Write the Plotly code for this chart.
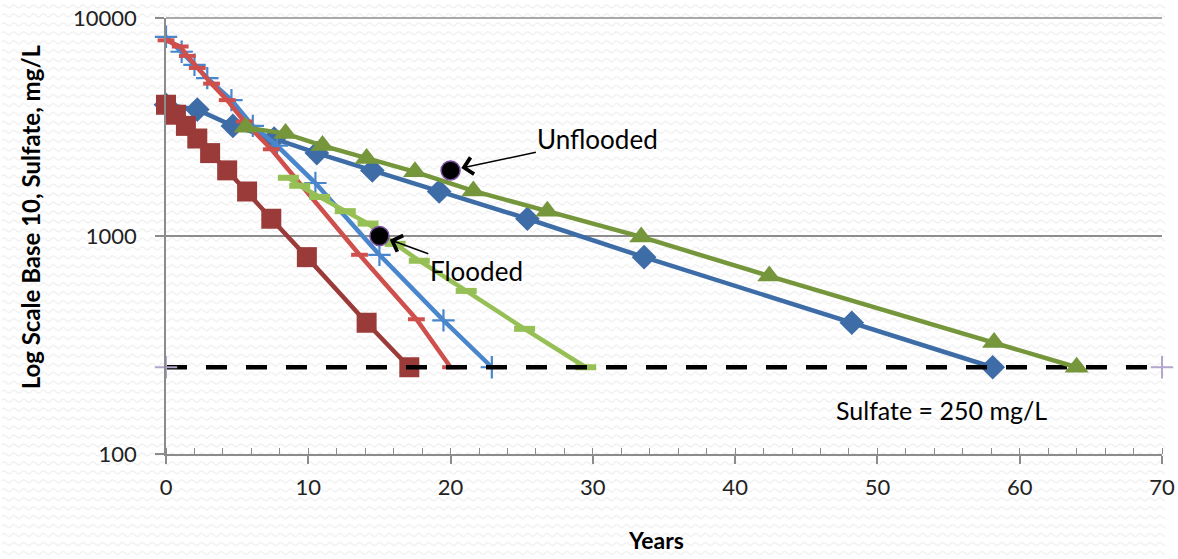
import base64
import numpy as np
import plotly.graph_objects as go

# ---------------- data ----------------
years_blue_diamond = [0, 2.2, 4.7, 7.6, 10.6, 14.5, 19.2, 25.4, 33.6, 48.2, 58.1]
so4_blue_diamond = [4000, 3800, 3200, 2800, 2400, 2000, 1600, 1200, 800, 400, 250]

years_red_square = [0, 0.7, 1.4, 2.2, 3.1, 4.3, 5.7, 7.4, 9.9, 14.1, 17.1]
so4_red_square = [4000, 3600, 3200, 2800, 2400, 2000, 1600, 1200, 800, 400, 250]

years_green_triangle = [5.6, 8.4, 11.0, 14.1, 17.5, 21.6, 26.8, 33.4, 42.4, 58.2, 64.0]
so4_green_triangle = [3150, 2950, 2600, 2270, 1970, 1610, 1300, 990, 655, 325, 250]

years_blue_plus = [0, 1.1, 2.0, 2.9, 4.6, 6.1, 7.8, 10.5, 15.0, 19.5, 22.9]
so4_blue_plus = [8200, 7000, 6100, 5300, 4200, 3200, 2600, 1750, 820, 410, 250]

years_red_dash = [0, 1.0, 1.5, 2.2, 3.2, 4.3, 5.5, 7.4, 13.6, 17.6, 20.0]
so4_red_dash = [7900, 7400, 6700, 5900, 5000, 4200, 3350, 2500, 820, 415, 250]

years_lgreen_dash = [8.6, 9.4, 10.8, 12.6, 14.2, 16.1, 17.8, 21.1, 25.2, 29.5]
so4_lgreen_dash = [1850, 1700, 1510, 1300, 1140, 920, 770, 560, 375, 250]

years_limit = [0, 70]
so4_limit = [250, 250]

callout_labels = ["Unflooded", "Flooded"]
callout_years = [20, 15]
callout_so4 = [2000, 1000]

x_ticks = [0, 10, 20, 30, 40, 50, 60, 70]
y_ticks = [100, 1000, 10000]
y_tick_text = ["100", "1000", "10000"]

FONT = "Lato"

fig = go.Figure()

def series(x, y, color, symbol, size, mline=None, mcolor=None, lw=4.5):
    marker = dict(symbol=symbol, size=size, color=mcolor or color)
    if mline is not None:
        marker["line"] = mline
    fig.add_trace(go.Scatter(x=x, y=y, mode="lines+markers",
                             line=dict(color=color, width=lw),
                             marker=marker, showlegend=False, cliponaxis=False))

series(years_blue_diamond, so4_blue_diamond, "#3D6CA6", "diamond", 19)
series(years_red_square, so4_red_square, "#9A3B3A", "square", 20)
series(years_blue_plus, so4_blue_plus, "#4A86CC", "cross-thin", 16,
       mline=dict(color="#4A86CC", width=2.2))
series(years_red_dash, so4_red_dash, "#CE4F4B", "line-ew", 12,
       mline=dict(color="#CE4F4B", width=4))
series(years_lgreen_dash, so4_lgreen_dash, "#96BF55", "line-ew", 15,
       mline=dict(color="#96BF55", width=6))

# regulatory limit line
fig.add_trace(go.Scatter(x=years_limit, y=so4_limit, mode="lines+markers",
                         line=dict(color="black", width=4.5, dash="21px,19px"),
                         marker=dict(symbol="cross-thin", size=16,
                                     line=dict(color="#B3A6CC", width=2)),
                         showlegend=False, cliponaxis=False))

series(years_green_triangle, so4_green_triangle, "#76963C", "triangle-up", 21)

# callout points
fig.add_trace(go.Scatter(x=callout_years, y=callout_so4, mode="markers",
                         marker=dict(symbol="circle", size=19, color="black",
                                     line=dict(color="#7A4FA0", width=1.5)),
                         showlegend=False, cliponaxis=False))

# ---- layout geometry: target picture pixels -> figure pixels ----
S, DY = 0.991, 4.0
def fx(px):
    return px / S
def fy(py):
    return (py - DY) / S

W, H = 1178, 559
PL, PR, PT, PB = fx(165), fx(1164), fy(20), fy(454)
pw, ph = PR - PL, PB - PT

def paper_x(px):
    return (fx(px) - PL) / pw
def paper_y(py):
    return (PB - fy(py)) / ph

# callout annotations
offsets = [(146, -31), (96, 35)]
for lab, xv, yv, (ax, ay) in zip(callout_labels, callout_years, callout_so4, offsets):
    fig.add_annotation(x=xv, y=np.log10(yv), xref="x", yref="y", text=lab,
                       showarrow=True, ax=ax / S, ay=ay / S, arrowhead=4, arrowsize=2.2,
                       arrowwidth=1.5, arrowcolor="black", standoff=11,
                       font=dict(family=FONT, size=26, color="black"))

fig.add_annotation(x=paper_x(943), y=paper_y(410), xref="paper", yref="paper",
                   xanchor="center", yanchor="middle", text="Sulfate = 250 mg/L",
                   showarrow=False, font=dict(family=FONT, size=25, color="black"))

fig.add_annotation(x=paper_x(30), y=paper_y(218), xref="paper", yref="paper",
                   xanchor="center", yanchor="middle",
                   text="<b>Log Scale Base 10, Sulfate, mg/L</b>", textangle=-90,
                   showarrow=False, font=dict(family=FONT, size=24, color="black"))
fig.add_annotation(x=paper_x(656), y=paper_y(540), xref="paper", yref="paper",
                   xanchor="center", yanchor="middle",
                   text="<b>Years</b>", showarrow=False,
                   font=dict(family=FONT, size=23, color="black"))

# top gridline at 10000 (plot edge)
fig.add_shape(type="line", xref="paper", yref="paper", x0=0, x1=1, y0=1, y1=1,
              line=dict(color="#8C8C8C", width=1.5), layer="below")

# faint wavy background texture
svg = (f"<svg xmlns='http://www.w3.org/2000/svg' width='{W}' height='{H}'>"
       "<defs><pattern id='p' width='10' height='9' patternUnits='userSpaceOnUse'>"
       "<path d='M0 4.5 Q2.5 1.5 5 4.5 T10 4.5' fill='none' stroke='#e9e9e9' stroke-width='1.1'/>"
       "</pattern></defs><rect width='100%' height='100%' fill='white'/>"
       "<rect width='100%' height='100%' fill='url(#p)'/></svg>")
src = "data:image/svg+xml;base64," + base64.b64encode(svg.encode()).decode()
fig.add_layout_image(source=src, xref="paper", yref="paper",
                     x=-PL / pw, y=1 + PT / ph, sizex=W / pw, sizey=H / ph,
                     xanchor="left", yanchor="top", sizing="stretch", layer="below")

axis_grey = "#8C8C8C"
fig.update_layout(
    width=W, height=H,
    margin=dict(l=PL, r=W - PR, t=PT, b=H - PB, pad=0),
    paper_bgcolor="white", plot_bgcolor="rgba(0,0,0,0)",
    font=dict(family=FONT, size=22, color="#222"),
    xaxis=dict(range=[0, 70], tickvals=x_ticks, showgrid=False, zeroline=False,
               showline=True, linecolor=axis_grey, linewidth=1.5,
               ticks="outside", ticklen=8, tickwidth=1.5, tickcolor=axis_grey,
               minor=dict(dtick=2, ticks="inside", ticklen=6, tickwidth=1.2,
                          tickcolor=axis_grey, showgrid=False),
               ticklabelstandoff=5, ticklabeloverflow="allow",
               tickfont=dict(family=FONT, size=22, color="#222")),
    yaxis=dict(type="log", range=[2, 4], tickvals=y_ticks, ticktext=y_tick_text,
               showgrid=True, gridcolor=axis_grey, gridwidth=1.5, zeroline=False,
               showline=True, linecolor=axis_grey, linewidth=1.5,
               ticks="outside", ticklen=9, tickwidth=1.5, tickcolor=axis_grey,
               ticklabelstandoff=14, ticklabeloverflow="allow",
               tickfont=dict(family=FONT, size=22, color="#222")),
)

fig.write_html("out.html", config={"displayModeBar": False},
               post_script="document.body.style.margin='0';document.body.style.overflow='hidden';")
